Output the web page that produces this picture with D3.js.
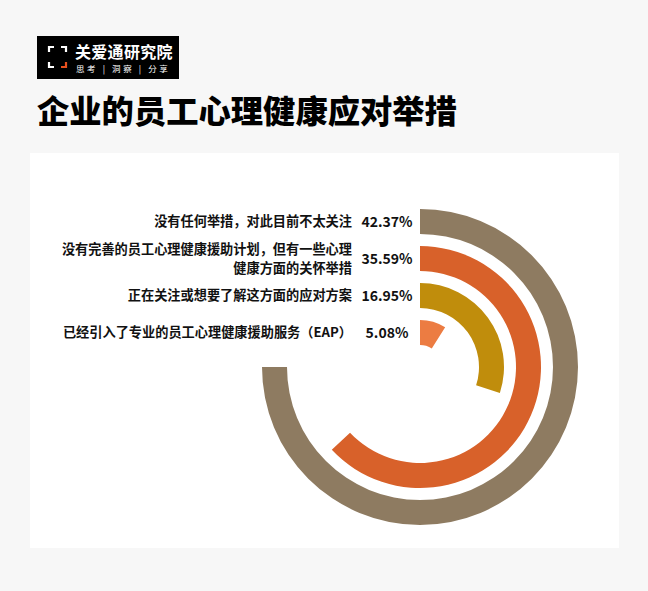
<!DOCTYPE html>
<html>
<head>
<meta charset="utf-8">
<script src="https://cdn.jsdelivr.net/npm/d3@7"></script>
<style>
  html, body { margin: 0; padding: 0; background: #f7f7f7; }
  svg { display: block; }
  text { font-family: "Microsoft YaHei", "Noto Sans CJK SC", "Noto Sans", sans-serif; }
</style>
</head>
<body>
<script>
const categories = [
  ["没有任何举措，对此目前不太关注"],
  ["没有完善的员工心理健康援助计划，但有一些心理", "健康方面的关怀举措"],
  ["正在关注或想要了解这方面的应对方案"],
  ["已经引入了专业的员工心理健康援助服务（EAP）"]
];
const values = [42.37, 35.59, 16.95, 5.08];
const valueLabels = ["42.37%", "35.59%", "16.95%", "5.08%"];
const colors = ["#8e7b61", "#d8612a", "#c08d0c", "#ec7c42"];
const title = "企业的员工心理健康应对举措";
const logoName = "关爱通研究院";
const logoSub = "思考 | 洞察 | 分享";

const W = 648, H = 591;
const svg = d3.select("body").append("svg").attr("width", W).attr("height", H);

svg.append("rect").attr("width", W).attr("height", H).attr("fill", "#f7f7f7");

// logo
const logo = svg.append("g").attr("transform", "translate(37,36)");
logo.append("rect").attr("width", 142).attr("height", 43).attr("fill", "#000");
const br = logo.append("g").attr("fill", "none").attr("stroke-width", 2.2);
br.append("path").attr("d", "M12,16 V11 H17").attr("stroke", "#fff");
br.append("path").attr("d", "M24,11 H29 V16").attr("stroke", "#fff");
br.append("path").attr("d", "M12,26 V31 H17").attr("stroke", "#fff");
br.append("path").attr("d", "M24,31 H29 V26").attr("stroke", "#e8501e");
logo.append("text").attr("x", 38).attr("y", 22).attr("fill", "#fff")
  .attr("font-size", 16).attr("font-weight", 700).attr("letter-spacing", 0.3).text(logoName);
logo.append("text").attr("x", 39).attr("y", 36).attr("fill", "#fff")
  .attr("font-size", 8.5).attr("letter-spacing", 2.6).text(logoSub);

// title
svg.append("text").attr("x", 37).attr("y", 123).attr("fill", "#000")
  .attr("font-size", 32.3).attr("font-weight", 900).text(title);

// panel
svg.append("rect").attr("x", 30).attr("y", 153).attr("width", 589).attr("height", 395).attr("fill", "#fff");

// chart
const cx = 420, cy = 367;
const g = svg.append("g").attr("transform", `translate(${cx},${cy})`);
const idx = d3.range(values.length);
const rScale = d3.scaleBand().domain(idx.slice().reverse()).range([22, 158]).paddingInner(12 / 37).paddingOuter(0);
const aScale = d3.scaleLinear().domain([0, d3.max(values)]).range([0, 1.5 * Math.PI]);
const arc = d3.arc()
  .innerRadius(i => rScale(i))
  .outerRadius(i => rScale(i) + rScale.bandwidth())
  .startAngle(0)
  .endAngle(i => aScale(values[i]));

g.selectAll("path.bar").data(idx).join("path").attr("class", "bar")
  .attr("d", arc).attr("fill", i => colors[i]);

// labels
const lab = svg.append("g");
idx.forEach(i => {
  const yc = cy - (rScale(i) + rScale.bandwidth() / 2);
  const lines = categories[i];
  const lh = 19.5;
  lines.forEach((ln, k) => {
    lab.append("text").attr("x", 352).attr("y", yc + (k - (lines.length - 1) / 2) * lh)
      .attr("dy", "0.36em").attr("text-anchor", "end")
      .attr("font-size", 13.2).attr("font-weight", 700).attr("fill", "#111").text(ln);
  });
  lab.append("text").attr("x", 387).attr("y", yc).attr("dy", "0.36em")
    .attr("text-anchor", "middle").attr("font-size", 14).attr("font-weight", 700)
    .attr("fill", "#111").text(valueLabels[i]);
});
</script>
</body>
</html>
